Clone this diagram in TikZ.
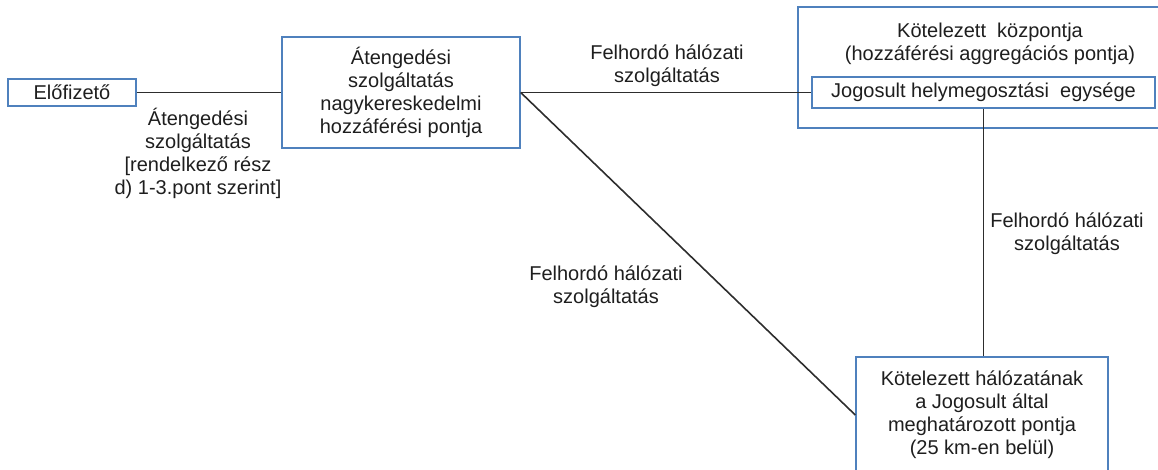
\documentclass[tikz,border=0pt]{standalone}
\usepackage{fontspec}
\setmainfont{Liberation Sans}
\usetikzlibrary{positioning}
\definecolor{keretkek}{RGB}{79,129,189}
\definecolor{vonalszin}{RGB}{45,45,45}
\definecolor{betuszin}{RGB}{30,30,30}
\tikzset{
  doboz/.style={draw=keretkek, line width=1.4pt, align=center, inner sep=0pt, text=betuszin, font=\fontsize{20}{23}\selectfont},
  felirat/.style={align=center, inner sep=0pt, text=betuszin, font=\fontsize{20}{23}\selectfont},
  kapcsolat/.style={draw=vonalszin, line width=1.6pt}
}

\begin{document}
\begin{tikzpicture}[x=1pt,y=-1pt]
        \useasboundingbox (0,0) rectangle (1158,470);
        % dobozok
        \node[doboz, minimum width=128pt, minimum height=27pt] (elo) at (72,92.5) {Előfizető};
        \node[doboz, minimum width=238pt, minimum height=111pt] (nagyker) at (401,92.5) {Átengedési\\szolgáltatás\\nagykereskedelmi\\hozzáférési pontja};
        \node[doboz, minimum width=366pt, minimum height=121pt] (kozp) at (981,67.5) {};
        \node[felirat] (kozpcim) at (990,44) {Kötelezett\ \ központja\\(hozzáférési aggregációs pontja)};
        \node[doboz, minimum width=343pt, minimum height=31pt] (jog) at (983.5,92.5) {Jogosult helymegosztási\ \ egysége};
        \node[doboz, minimum width=252pt, minimum height=116pt] (pont) at (982,415) {Kötelezett hálózatának\\a Jogosult által\\meghatározott pontja\\(25 km-en belül)};
        % kapcsolatok
        \draw[kapcsolat] (elo.east) -- (nagyker.west);
        \draw[kapcsolat] (nagyker.east) -- (jog.west);
        \draw[kapcsolat] (nagyker.east) -- (pont.west);
        \draw[kapcsolat] (jog.south) -- (jog.south |- pont.north);
        % feliratok
        \node[felirat] (atfel) at (198,153) {Átengedési\\szolgáltatás\\{[rendelkező rész}\\d) 1-3.pont szerint]};
        \node[felirat] (felsofel) at (667,66) {Felhordó hálózati\\szolgáltatás};
        \node[felirat] (ferdefel) at (606,287) {Felhordó hálózati\\szolgáltatás};
        \node[felirat] (fuggfel) at (1067,234) {Felhordó hálózati\\szolgáltatás};
\end{tikzpicture}
\end{document}
